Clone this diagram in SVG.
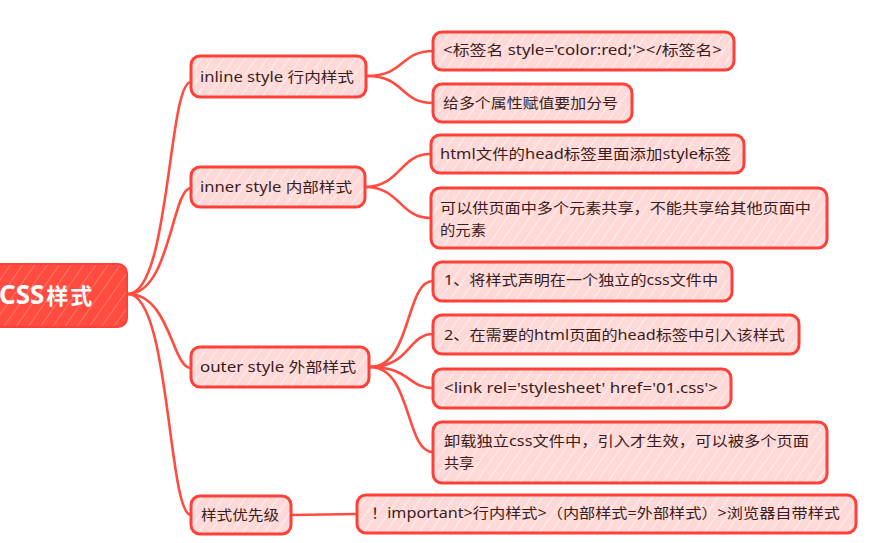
<svg xmlns="http://www.w3.org/2000/svg" width="870" height="543" viewBox="0 0 870 543">
<defs>
<pattern id="hatch" width="9" height="9" patternUnits="userSpaceOnUse" patternTransform="rotate(35)">
<rect width="9" height="9" fill="#ffd9d7"/>
<line x1="0" y1="0" x2="0" y2="9" stroke="#ffffff" stroke-width="1.6" stroke-opacity="0.75"/>
</pattern>
<pattern id="hatchRoot" width="10" height="10" patternUnits="userSpaceOnUse" patternTransform="rotate(35)">
<rect width="10" height="10" fill="#ff4b40"/>
<line x1="0" y1="0" x2="0" y2="10" stroke="#ffb3ad" stroke-width="1.2" stroke-opacity="0.7"/>
</pattern>
</defs>
<style>
.conn path{fill:none;stroke:#ff4b40;stroke-width:2.6;stroke-linecap:round}
.box{fill:url(#hatch);stroke:#ff4038;stroke-width:3}
.t{font-family:"Noto Sans","Noto Sans CJK SC",sans-serif;font-size:14px;fill:#3a1c1c}
.rt{font-family:"Noto Sans","Noto Sans CJK SC",sans-serif;font-size:22px;font-weight:bold;fill:#ffffff}
</style>
<rect width="870" height="543" fill="#ffffff"/>
<g class="conn" id="connectors">
<path d="M128 294 C170 294 168 82 191 82"/>
<path d="M128 294 C170 294 172 188 191 188"/>
<path d="M128 294 C170 294 172 368 191 368"/>
<path d="M128 294 C170 294 168 515 191 515"/>
<path d="M367 76 C405 76 400 51 433 51"/>
<path d="M367 76 C405 76 400 103 433 103"/>
<path d="M365 187 C400 187 400 154 430 154"/>
<path d="M365 187 C400 187 400 218 430 218"/>
<path d="M370 367 C412 367 405 281 433 281"/>
<path d="M370 367 C410 367 408 334 433 334"/>
<path d="M370 367 C410 367 408 388 433 388"/>
<path d="M370 367 C412 367 405 452 433 452"/>
<path d="M292 515 L357 514"/>
</g>
<g id="root">
<rect x="-12" y="264" width="139" height="63" rx="9" fill="url(#hatchRoot)" stroke="#ff4038" stroke-width="2"/>
<text class="rt" x="-1" y="304"><tspan font-size="26">CSS</tspan><tspan dx="2" letter-spacing="2">样式</tspan></text>
</g>
<g id="inline">
<rect class="box" x="191" y="56" width="175" height="41" rx="9"/>
<text class="t" x="200" y="82" textLength="154" lengthAdjust="spacingAndGlyphs">inline style 行内样式</text>
</g>
<g id="inner">
<rect class="box" x="191" y="167" width="174" height="40" rx="9"/>
<text class="t" x="200" y="192" textLength="152" lengthAdjust="spacingAndGlyphs">inner style 内部样式</text>
</g>
<g id="outer">
<rect class="box" x="191" y="347" width="178" height="40" rx="9"/>
<text class="t" x="200" y="372" textLength="156" lengthAdjust="spacingAndGlyphs">outer style 外部样式</text>
</g>
<g id="priority">
<rect class="box" x="191" y="496" width="100" height="38" rx="9"/>
<text class="t" x="201" y="520" textLength="78" lengthAdjust="spacingAndGlyphs">样式优先级</text>
</g>
<g id="inline-1">
<rect class="box" x="433" y="32" width="301" height="38" rx="9"/>
<text class="t" x="443" y="55" textLength="279" lengthAdjust="spacingAndGlyphs">&lt;标签名 style='color:red;'&gt;&lt;/标签名&gt;</text>
</g>
<g id="inline-2">
<rect class="box" x="433" y="84" width="199" height="38" rx="9"/>
<text class="t" x="443" y="108" textLength="175" lengthAdjust="spacingAndGlyphs">给多个属性赋值要加分号</text>
</g>
<g id="inner-1">
<rect class="box" x="431" y="135" width="313" height="38" rx="9"/>
<text class="t" x="440" y="159" textLength="291" lengthAdjust="spacingAndGlyphs">html文件的head标签里面添加style标签</text>
</g>
<g id="inner-2">
<rect class="box" x="431" y="188" width="396" height="60" rx="9"/>
<text class="t" x="440" y="213" textLength="371" lengthAdjust="spacingAndGlyphs">可以供页面中多个元素共享，不能共享给其他页面中</text>
<text class="t" x="440" y="235" textLength="46" lengthAdjust="spacingAndGlyphs">的元素</text>
</g>
<g id="outer-1">
<rect class="box" x="433" y="262" width="299" height="39" rx="9"/>
<text class="t" x="444" y="285" textLength="274" lengthAdjust="spacingAndGlyphs">1、将样式声明在一个独立的css文件中</text>
</g>
<g id="outer-2">
<rect class="box" x="433" y="315" width="366" height="39" rx="9"/>
<text class="t" x="444" y="340" textLength="341" lengthAdjust="spacingAndGlyphs">2、在需要的html页面的head标签中引入该样式</text>
</g>
<g id="outer-3">
<rect class="box" x="433" y="369" width="298" height="39" rx="9"/>
<text class="t" x="444" y="393" textLength="274" lengthAdjust="spacingAndGlyphs">&lt;link rel='stylesheet' href='01.css'&gt;</text>
</g>
<g id="outer-4">
<rect class="box" x="433" y="422" width="394" height="61" rx="9"/>
<text class="t" x="444" y="446" textLength="365" lengthAdjust="spacingAndGlyphs">卸载独立css文件中，引入才生效，可以被多个页面</text>
<text class="t" x="444" y="468" textLength="30" lengthAdjust="spacingAndGlyphs">共享</text>
</g>
<g id="priority-1">
<rect class="box" x="357" y="495" width="499" height="38" rx="9"/>
<text class="t" x="371" y="518" textLength="469" lengthAdjust="spacingAndGlyphs">！important&gt;行内样式&gt;（内部样式=外部样式）&gt;浏览器自带样式</text>
</g>
</svg>
